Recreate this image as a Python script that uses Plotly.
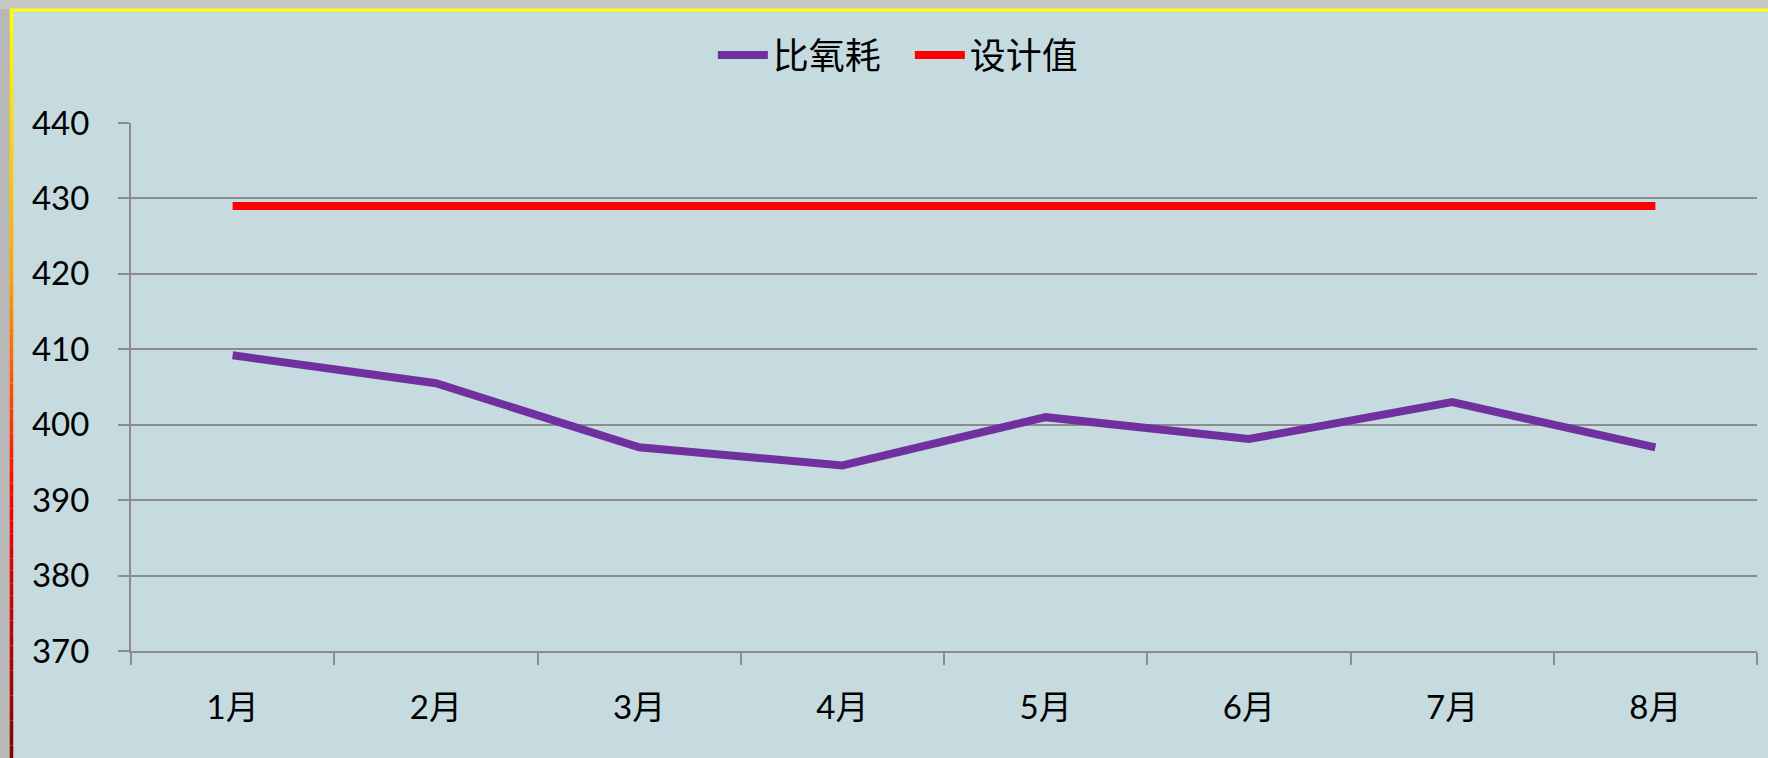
import plotly.graph_objects as go

months = ["1月", "2月", "3月", "4月", "5月", "6月", "7月", "8月"]
oxygen = [409.2, 405.5, 397.0, 394.6, 401.0, 398.1, 403.0, 397.0]
design = [429, 429, 429, 429, 429, 429, 429, 429]
y_ticks = [370, 380, 390, 400, 410, 420, 430, 440]

W, H = 1768, 758
L, R, T, B = 131, 11, 123, 107
PW, PH = W - L - R, H - T - B

def px(x):
    return (x - L) / PW

def py(y):
    return (H - B - y) / PH

FONT = "Lato, 'Noto Sans CJK SC', sans-serif"
GRID = "#8c8c8c"

fig = go.Figure()
fig.add_trace(go.Scatter(x=months, y=oxygen, mode="lines", name="比氧耗",
                         line=dict(color="#7030a0", width=8)))
fig.add_trace(go.Scatter(x=months, y=design, mode="lines", name="设计值",
                         line=dict(color="#ff0000", width=8)))

shapes = []
shapes.append(dict(type="rect", xref="paper", yref="paper", x0=px(0), x1=px(10), y0=py(H), y1=py(0),
                   fillcolor="#b8b8b8", line=dict(width=0), layer="below"))
shapes.append(dict(type="rect", xref="paper", yref="paper", x0=px(0), x1=px(W), y0=py(9), y1=py(0),
                   fillcolor="#c8c8c8", line=dict(width=0), layer="below"))
shapes.append(dict(type="line", xref="paper", yref="paper", x0=px(10), x1=px(W), y0=py(10), y1=py(10),
                   line=dict(color="#ffff00", width=3), layer="above"))
stops = [(0, (255, 255, 0)), (0.35, (255, 165, 0)), (0.65, (255, 0, 0)), (1.0, (130, 0, 0))]

def grad(t):
    for (a, ca), (b, cb) in zip(stops[:-1], stops[1:]):
        if a <= t <= b:
            f = (t - a) / (b - a)
            return "rgb(%d,%d,%d)" % tuple(round(ca[i] + (cb[i] - ca[i]) * f) for i in range(3))
    return "rgb(130,0,0)"

n = 60
for i in range(n):
    y0 = 9 + (H - 9) * i / n
    y1 = 9 + (H - 9) * (i + 1) / n
    shapes.append(dict(type="line", xref="paper", yref="paper", x0=px(11.5), x1=px(11.5),
                       y0=py(y0), y1=py(y1), line=dict(color=grad((i + 0.5) / n), width=3.5), layer="above"))

fig.update_layout(
    width=W, height=H,
    margin=dict(l=L, r=R, t=T, b=B),
    paper_bgcolor="#c5dbdf",
    plot_bgcolor="rgba(0,0,0,0)",
    font=dict(family=FONT, size=33, color="#000000"),
    showlegend=True,
    legend=dict(orientation="h", x=0.479, xanchor="center", y=1 - 55 / H, yanchor="middle",
                yref="container", font=dict(size=36, color="#000000"), bgcolor="rgba(0,0,0,0)",
                itemwidth=50, tracegroupgap=0, entrywidth=132, entrywidthmode="pixels"),
    shapes=shapes,
    xaxis=dict(type="category", range=[-0.5, 7.5], autorange=False, showgrid=False, showline=True,
               linecolor=GRID, linewidth=2,
               ticks="outside", tickson="boundaries", ticklen=12, tickwidth=2, tickcolor=GRID,
               tickfont=dict(size=33), ticklabelstandoff=26, zeroline=False),
    yaxis=dict(range=[370, 440], tickvals=y_ticks, showgrid=True, gridcolor=GRID, gridwidth=2,
               showline=True, linecolor=GRID, linewidth=2, ticks="outside", ticklen=11,
               tickwidth=2, tickcolor=GRID, tickfont=dict(size=33), ticklabelstandoff=22,
               zeroline=False),
)

fig.write_html("out.html")
